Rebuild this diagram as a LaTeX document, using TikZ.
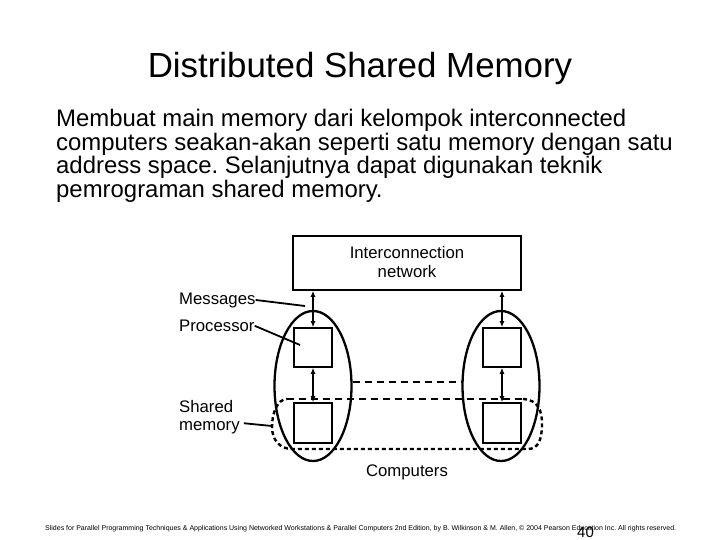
\documentclass[tikz,border=0pt]{standalone}
\usepackage{fontspec}
\usepackage{graphicx}
\setmainfont{Liberation Sans}
\frenchspacing
\usetikzlibrary{shapes.geometric,arrows.meta}
\begin{document}
\begin{tikzpicture}[x=1bp,y=-1bp,
  box/.style={draw, line width=1.6bp, minimum width=38bp, minimum height=39bp, inner sep=0},
  comp/.style={draw, ellipse, line width=2.3bp, minimum width=77bp, minimum height=150bp, inner sep=0},
  arr/.style={line width=1.8bp, {Latex[length=6bp,width=5bp]}-{Latex[length=6bp,width=5bp]}},
  lead/.style={line width=1.8bp},
  lbl/.style={font=\fontsize{16.8}{19}\selectfont, inner sep=0},
  body/.style={font=\fontsize{24}{28}\selectfont, anchor=base west, inner sep=0},
  dashA/.style={line width=2.4bp, dash pattern=on 7bp off 5bp},
  dashB/.style={line width=2.4bp, dash pattern=on 4bp off 3bp}]
\useasboundingbox (0,0) rectangle (720,540);
\fill[white] (0,0) rectangle (720,540);
% title and body
\node[font=\fontsize{35}{40}\selectfont, anchor=base, inner sep=0] (title) at (360,78) {Distributed Shared Memory};
\node[body] (l1) at (56,127) {Membuat main memory dari kelompok interconnected};
\node[body] (l2) at (56,150.5) {computers seakan-akan seperti satu memory dengan satu};
\node[body] (l3) at (56,174) {address space. Selanjutnya dapat digunakan teknik};
\node[body] (l4) at (56,197.5) {pemrograman shared memory.};
% network
\node[draw, line width=1.6bp, minimum width=228bp, minimum height=54bp, inner sep=0] (net) at (407,263) {};
\node[lbl, anchor=base] (net1) at (407,259) {Interconnection};
\node[lbl, anchor=base] (net2) at (407,278) {network};
% computers
\node[box] (p1) at (313,347.5) {};
\node[box, minimum height=40bp] (m1) at (313,423) {};
\node[box] (p2) at (502,347.5) {};
\node[box, minimum height=40bp] (m2) at (502,423) {};
\node[comp] (c1) at (313,386) {};
\node[comp] (c2) at (501,386) {};
% arrows
\draw[arr] (p1.north |- net.south) -- (p1.north);
\draw[arr] (p2.north |- net.south) -- (p2.north);
\draw[arr] (p1.south) -- (m1.north);
\draw[arr] (p2.south) -- (m2.north);
% dashed link between computers
\draw[dashA] ([yshift=4bp]c1.east) -- ([yshift=4bp]c2.west);
% shared memory group
\draw[dashA] (287,399) -- (523,399);
\draw[dashB] (523,399) .. controls (538,400) and (542,410) .. (542,424)
  .. controls (542,440) and (538,449) .. (528,449) -- (292,449)
  .. controls (280,449) and (272,440) .. (272,427)
  .. controls (272,412) and (278,399) .. (287,399);
% labels
\node[lbl, anchor=base west] (msg) at (179,304) {Messages};
\coordinate (msgE) at (305,306);
\draw[lead] (msg.east) -- (msgE);
\node[lbl, anchor=base west] (proc) at (179,331.5) {Processor};
\coordinate (procE) at (300,345);
\draw[lead] (proc.east) -- (procE);
\node[lbl, anchor=base west] (sh) at (179,412.5) {Shared};
\node[lbl, anchor=base west] (shm) at (179,430) {memory};
\coordinate (shE) at (272,426);
\draw[lead] ([xshift=4bp,yshift=4bp]shm.east) -- (shE);
\node[lbl, anchor=base] (cmp) at (407,476) {Computers};
% footer
\node[anchor=base west, inner sep=0] (foot) at (45,530) {\resizebox{631bp}{!}{\fontsize{6}{7}\selectfont Slides for Parallel Programming Techniques \& Applications Using Networked Workstations \& Parallel Computers 2nd Edition, by B. Wilkinson \& M. Allen, \textcopyright{} 2004 Pearson Education Inc. All rights reserved.}};
\node[anchor=base west, inner sep=0, font=\fontsize{15}{18}\selectfont] (page) at (577,537) {40};
\end{tikzpicture}
\end{document}
